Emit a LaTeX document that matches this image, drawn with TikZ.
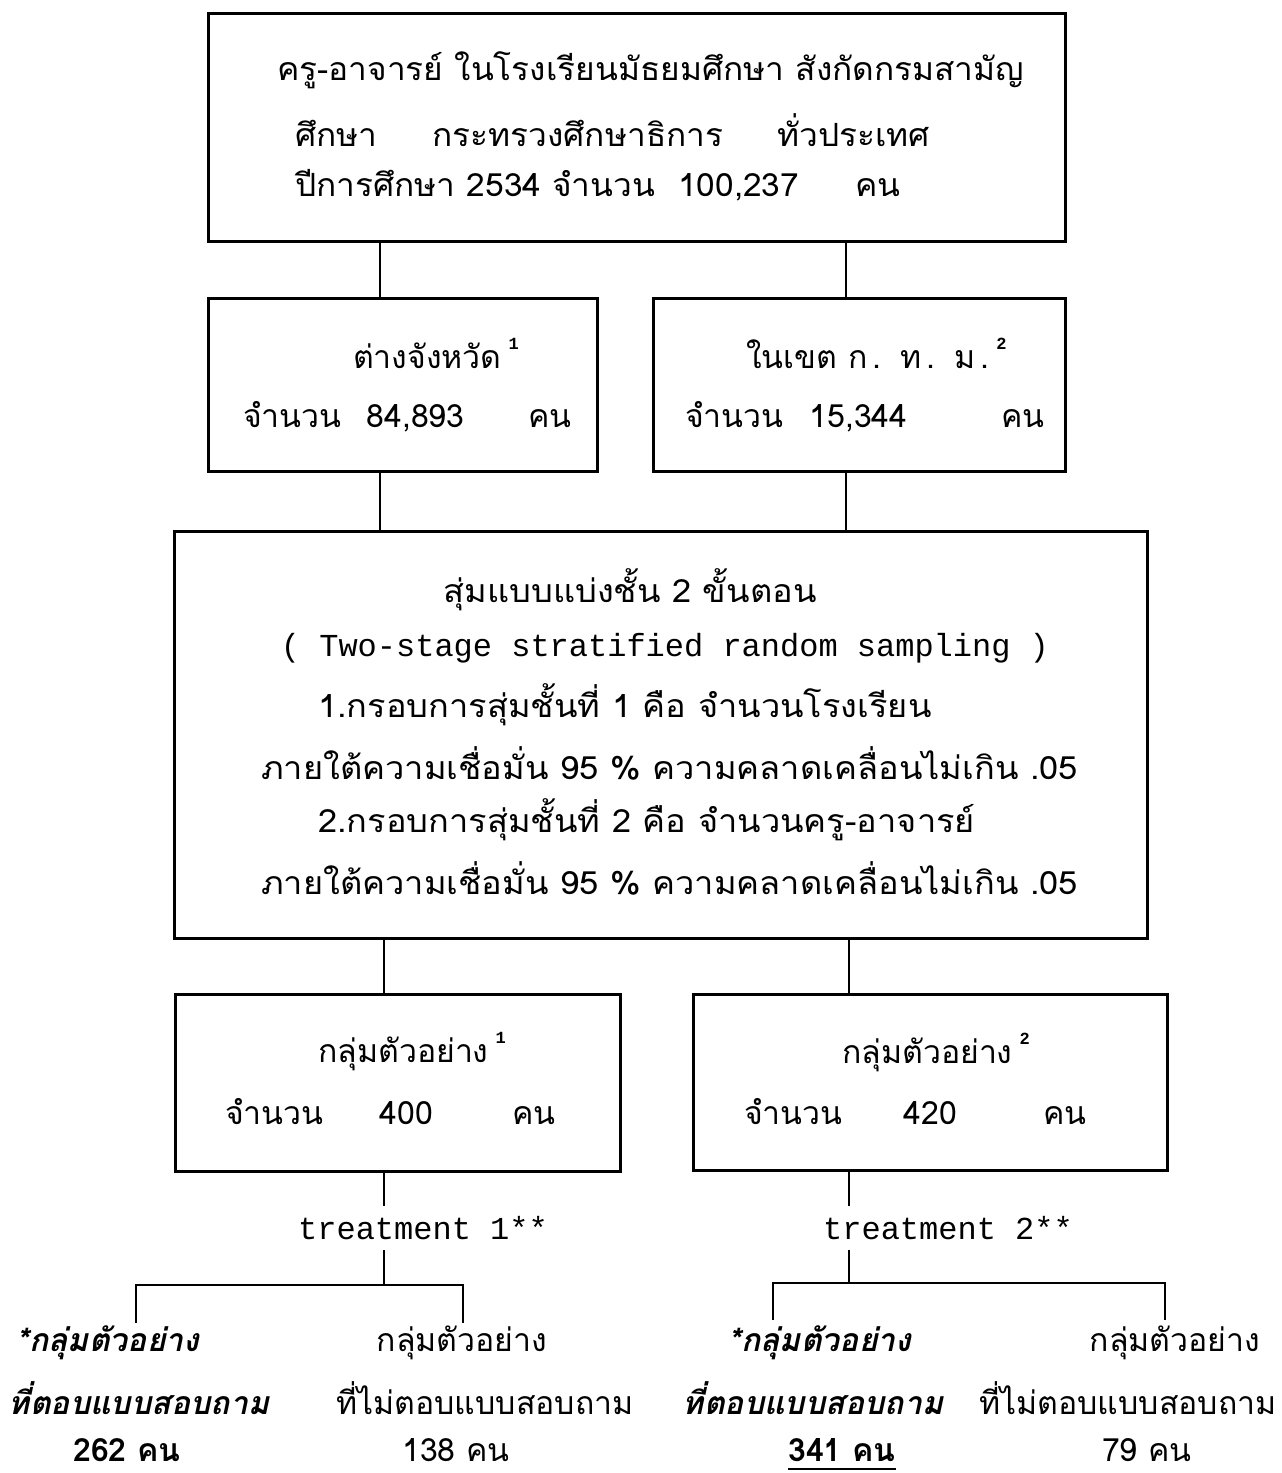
\documentclass[tikz,border=0pt]{standalone}
\usepackage{fontspec}
\setmainfont[Script=Thai]{Loma}
\newfontfamily\thA[Script=Thai, FakeStretch=1.045]{Loma}
\newfontfamily\thB[Script=Thai, FakeStretch=1.075]{Loma}
\newfontfamily\mono{Liberation Mono}
\newcommand\supr[1]{\hspace{7pt}\raisebox{19pt}{\fontsize{17}{17}\selectfont\mono\bfseries #1}}
\begin{document}
\begin{tikzpicture}[x=1pt,y=-1pt,
  box/.style={draw, line width=2.8pt, inner sep=0pt, anchor=north west},
  con/.style={line width=2.4pt},
  t/.style={inner sep=0pt, font=\fontsize{32}{38}\selectfont},
  ta/.style={inner sep=0pt, font=\thA\fontsize{32}{38}\selectfont},
  tc/.style={inner sep=0pt, font=\thB\fontsize{32}{38}\selectfont},
  tm/.style={inner sep=0pt, font=\mono\fontsize{32}{38}\selectfont},
  tb/.style={inner sep=0pt, font=\fontsize{32}{38}\selectfont\bfseries},
  tbi/.style={inner sep=0pt, font=\fontsize{32}{38}\selectfont\bfseries\itshape}]
\useasboundingbox (0,0) rectangle (1282,1473);
\fill[white] (0,0) rectangle (1282,1473);
% boxes
\node[box, minimum width=857, minimum height=228] (top) at (207,12) {};
\node[box, minimum width=389, minimum height=173] (ba) at (207,297) {};
\node[box, minimum width=412, minimum height=173] (bb) at (652,297) {};
\node[box, minimum width=973, minimum height=407] (big) at (173,530) {};
\node[box, minimum width=445, minimum height=177] (bc) at (174,993) {};
\node[box, minimum width=474, minimum height=176] (bd) at (692,993) {};
% top text
\node[ta, anchor=west] (top1) at (277,70) {ครู-อาจารย์ ในโรงเรียนมัธยมศึกษา สังกัดกรมสามัญ};
\node[ta, anchor=west] (top2) at (295,130) {ศึกษา\hspace{55pt}กระทรวงศึกษาธิการ\hspace{54pt}ทั่วประเทศ};
\node[ta, anchor=west] (top3) at (295,185) {ปีการศึกษา 2534\hspace{11pt}จำนวน\hspace{23pt}100,237\hspace{56pt}คน};
% box A / B
\node[t] (ba1) at (436,353) {ต่างจังหวัด\supr{1}};
\node[t, anchor=west] (ba2) at (243,417) {จำนวน\hspace{25pt}84,893\hspace{64pt}คน};
\node[t, anchor=west] (bb1) at (746,353) {ในเขต ก\hspace{5pt}.\hspace{19pt}ท\hspace{5pt}.\hspace{19pt}ม\hspace{5pt}.\supr{2}};
\node[t, anchor=west] (bb2) at (685,417) {จำนวน\hspace{26pt}15,344\hspace{94pt}คน};
% big box
\node[tc] (s1) at (630,590) {สุ่มแบบแบ่งชั้น 2 ขั้นตอน};
\node[tm] (s2) at (665,648) {( Two-stage stratified random sampling )};
\node[tc, anchor=west] (s3) at (318,705) {1.กรอบการสุ่มชั้นที่ 1 คือ จำนวนโรงเรียน};
\node[tc, anchor=west] (s4) at (261,763) {ภายใต้ความเชื่อมั่น 95 \% ความคลาดเคลื่อนไม่เกิน .05};
\node[tc, anchor=west] (s5) at (318,820) {2.กรอบการสุ่มชั้นที่ 2 คือ จำนวนครู-อาจารย์};
\node[tc, anchor=west] (s6) at (261,878) {ภายใต้ความเชื่อมั่น 95 \% ความคลาดเคลื่อนไม่เกิน .05};
% box C / D
\node[t] (c1) at (412,1052) {กลุ่มตัวอย่าง\supr{1}};
\node[t, anchor=west] (c2) at (225,1112) {จำนวน\hspace{56pt}400\hspace{79pt}คน};
\node[t] (d1) at (936,1052) {กลุ่มตัวอย่าง\supr{2}};
\node[t, anchor=west] (d2) at (744,1112) {จำนวน\hspace{61pt}420\hspace{86pt}คน};
% treatments
\node[tm, minimum height=44] (t1) at (423,1228) {treatment 1**};
\node[tm, minimum height=44] (t2) at (948,1228) {treatment 2**};
% bottom texts
\node[tbi] (l1a) at (108,1343) {*กลุ่มตัวอย่าง};
\node[tbi] (l1b) at (139,1398) {ที่ตอบแบบสอบถาม};
\node[tb]  (l1c) at (127,1450) {262 คน};
\node[t]   (l2a) at (462,1343) {กลุ่มตัวอย่าง};
\node[t]   (l2b) at (485,1398) {ที่ไม่ตอบแบบสอบถาม};
\node[t]   (l2c) at (456,1450) {138 คน};
\node[tbi] (r1a) at (820,1343) {*กลุ่มตัวอย่าง};
\node[tbi] (r1b) at (813,1398) {ที่ตอบแบบสอบถาม};
\node[tb]  (r1c) at (842,1450) {341 คน};
\node[t]   (r2a) at (1175,1343) {กลุ่มตัวอย่าง};
\node[t]   (r2b) at (1128,1398) {ที่ไม่ตอบแบบสอบถาม};
\node[t]   (r2c) at (1147,1450) {79 คน};
\coordinate (ul) at (0,1469);
\draw[line width=2.2pt] (r1c.west |- ul) -- (r1c.east |- ul);
% connectors
\coordinate (xa) at (380,0);
\coordinate (xb) at (846,0);
\coordinate (xc) at (384,0);
\coordinate (xd) at (849,0);
\coordinate (jc) at (384,1285);
\coordinate (jd) at (849,1283);
\coordinate (lc) at (136,1323);
\coordinate (rc) at (463,1323);
\coordinate (ld) at (773,1320);
\coordinate (rd) at (1165,1320);
\draw[con] (top.south -| xa) -- (ba.north -| xa);
\draw[con] (top.south -| xb) -- (bb.north -| xb);
\draw[con] (ba.south -| xa) -- (big.north -| xa);
\draw[con] (bb.south -| xb) -- (big.north -| xb);
\draw[con] (big.south -| xc) -- (bc.north -| xc);
\draw[con] (big.south -| xd) -- (bd.north -| xd);
\draw[con] (bc.south -| xc) -- (t1.north -| xc);
\draw[con] (bd.south -| xd) -- (t2.north -| xd);
\draw[con] (t1.south -| xc) -- (jc);
\draw[con] (t2.south -| xd) -- (jd);
\draw[con] (lc) |- (jc) -| (rc);
\draw[con] (ld) |- (jd) -| (rd);
\end{tikzpicture}
\end{document}
